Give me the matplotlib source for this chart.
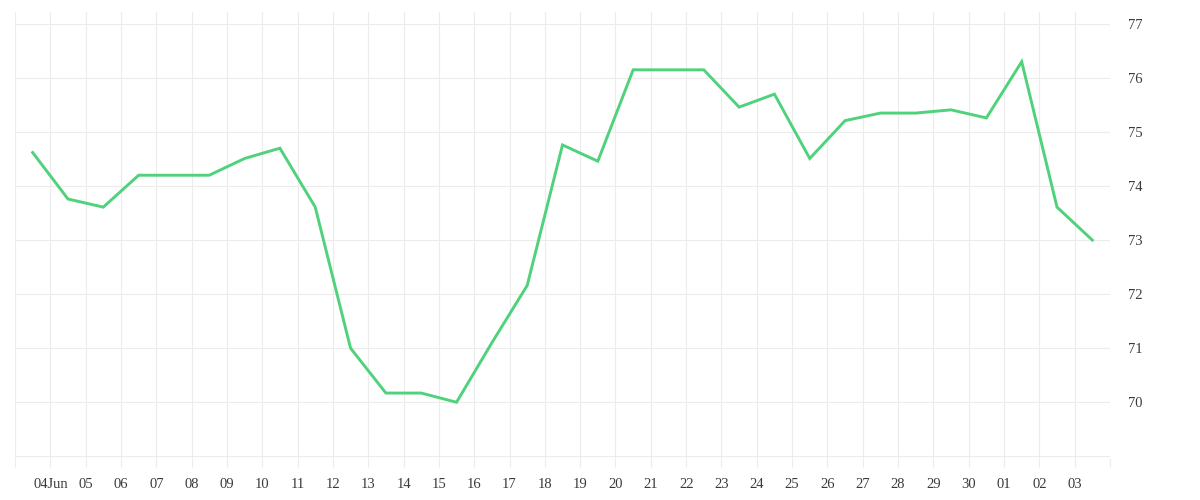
import matplotlib
matplotlib.use("Agg")
import matplotlib.pyplot as plt
import matplotlib.dates as mdates
import pandas as pd

# ---- data ----
start_date = "2023-06-03 12:00"
values = [74.62, 73.76, 73.61, 74.20, 74.20, 74.20, 74.51, 74.70, 73.61, 71.00,
          70.17, 70.17, 70.00, 71.10, 72.16, 74.76, 74.46, 76.15, 76.15, 76.15,
          75.46, 75.70, 74.51, 75.21, 75.35, 75.35, 75.41, 75.26, 76.30, 73.61,
          73.00]
x_tick_labels = ["", "04Jun", "05", "06", "07", "08", "09", "10", "11", "12", "13",
                 "14", "15", "16", "17", "18", "19", "20", "21", "22", "23", "24",
                 "25", "26", "27", "28", "29", "30", "01", "02", "03", ""]
y_ticks = [70, 71, 72, 73, 74, 75, 76, 77]
y_grid = [69, 70, 71, 72, 73, 74, 75, 76, 77]

dates = pd.date_range(start=start_date, periods=len(values), freq="D")
tick_dates = pd.date_range(start="2023-06-03", periods=len(x_tick_labels), freq="D")

LINE = "#4fd27b"
GRID = "#ececec"
TEXT = "#3a3a3a"

fig = plt.figure(figsize=(12, 5), dpi=100)
ax = fig.add_axes([15 / 1200, (500 - 459) / 500, (1110 - 15) / 1200, (459 - 12) / 500])

ax.plot(dates, values, color=LINE, linewidth=2.1, solid_joinstyle="miter", zorder=3)

ax.set_xlim(tick_dates[0], tick_dates[-1])
ax.set_ylim(68.95, 77.22)

ax.set_xticks(tick_dates)
ax.set_xticklabels(x_tick_labels)
ax.set_yticks(y_grid)
ax.set_yticklabels([str(v) if v in y_ticks else "" for v in y_grid])

ax.yaxis.tick_right()
ax.grid(True, color=GRID, linewidth=0.8, zorder=0)
for s in ax.spines.values():
    s.set_visible(False)

ax.tick_params(axis="x", length=6, width=0.8, color=GRID, pad=7.5,
               labelsize=10.5, labelcolor=TEXT)
ax.tick_params(axis="y", length=0, pad=13, labelsize=10.5, labelcolor=TEXT)
for lbl in ax.get_xticklabels() + ax.get_yticklabels():
    lbl.set_fontfamily("Liberation Serif")

fig.savefig("out.png", dpi=100, facecolor="white")
